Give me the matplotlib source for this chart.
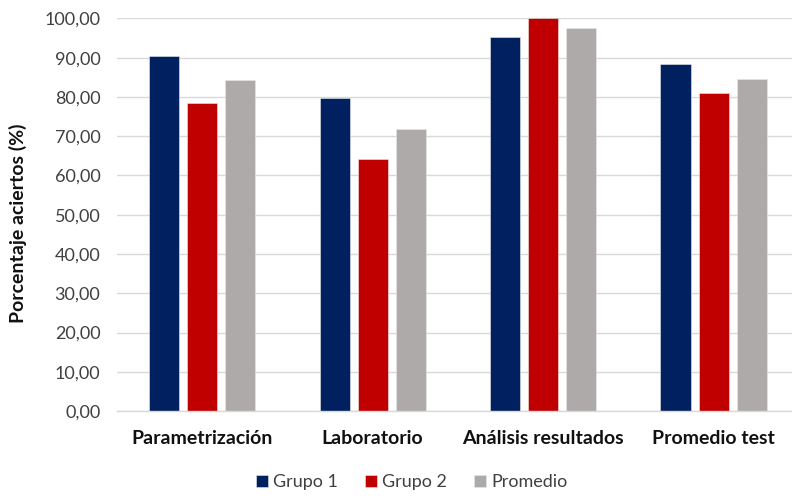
import numpy as np
import matplotlib
matplotlib.use('Agg')
import matplotlib.pyplot as plt

plt.rcParams['font.family'] = ['Lato', 'DejaVu Sans']

# datos
categorias = ['Parametrización', 'Laboratorio', 'Análisis resultados', 'Promedio test']
grupo1 = [90.4, 79.7, 95.3, 88.4]
grupo2 = [78.5, 64.3, 100.0, 81.0]
promedio = [84.4, 71.9, 97.5, 84.7]
series = ['Grupo 1', 'Grupo 2', 'Promedio']
colores = ['#002060', '#C00000', '#AEAAAA']

fig = plt.figure(figsize=(7.92, 4.96), dpi=100)
ax = fig.add_axes([117/792, 1-411/496, 1-117/792, (411-18.5)/496])

x = np.arange(len(categorias))
ancho = 0.1765
paso = 0.2235
for i, (vals, nom, col) in enumerate(zip([grupo1, grupo2, promedio], series, colores)):
    ax.bar(x + (i-1)*paso, vals, ancho, color=col, label=nom, zorder=3,
           edgecolor='#e8e8e8', linewidth=0.4)

ax.set_ylim(0, 100)
ax.set_xlim(-0.5, 3.46)
ax.set_yticks(np.arange(0, 101, 10))
ax.set_yticklabels([('%.2f' % v).replace('.', ',') for v in np.arange(0, 101, 10)],
                   fontsize=13, color='#404040')
ax.set_xticks(x)
ax.set_xticklabels(categorias, fontsize=14, fontweight='bold', color='#111111')
ax.tick_params(axis='both', length=0)
ax.tick_params(axis='y', pad=12)
ax.tick_params(axis='x', pad=14)
ax.grid(axis='y', color='#D9D9D9', linewidth=1, zorder=0)
for s in ['top', 'right', 'left']:
    ax.spines[s].set_visible(False)
ax.spines['bottom'].set_color('#D9D9D9')
ax.spines['bottom'].set_linewidth(1)
ax.spines['bottom'].set_zorder(4)

fig.text(18/792, 1-223/496, 'Porcentaje aciertos (%)', rotation=90, ha='center', va='center',
         fontsize=14, fontweight='bold', color='#111111')

fig.legend(loc='center', bbox_to_anchor=(412/792, 1-482/496), ncol=3, frameon=False,
           fontsize=13, handlelength=0.65, handleheight=0.65, handletextpad=0.3,
           columnspacing=1.5, labelcolor='#404040')

fig.savefig('out.png', dpi=100)
